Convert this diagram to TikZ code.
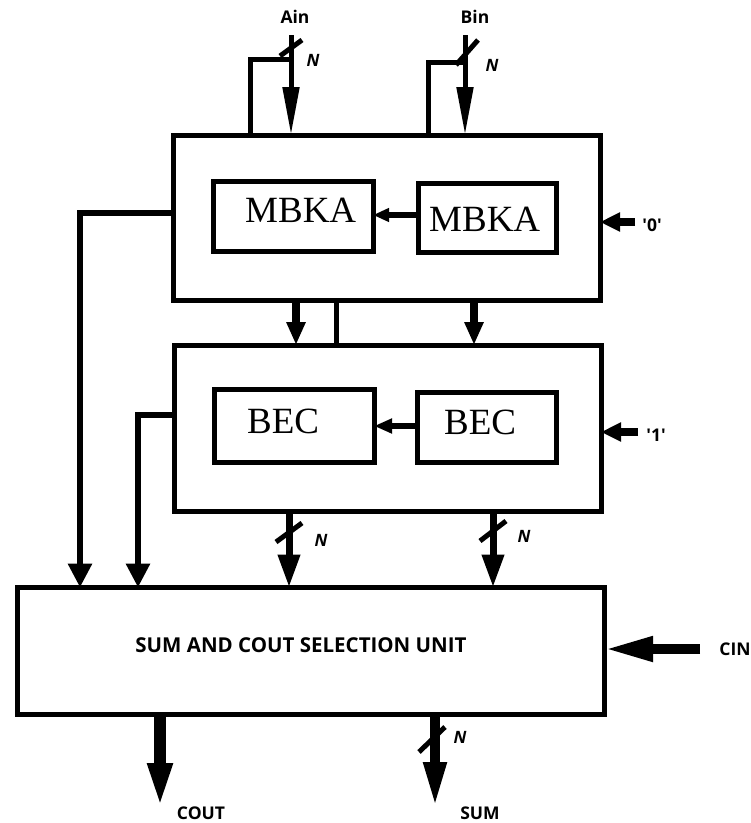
\documentclass[tikz,border=0pt]{standalone}
\usepackage{fontspec}
\setmainfont{Liberation Serif}
\newfontfamily\labfont{Open Sans}
\usetikzlibrary{arrows.meta}
\begin{document}
\begin{tikzpicture}[x=1pt,y=-1pt,
  box/.style={draw, line width=5pt, inner sep=0pt, outer sep=0pt},
  serif/.style={inner sep=0pt, anchor=base west, font=\fontsize{37}{40}\selectfont},
  lbl/.style={inner sep=0pt, font=\labfont\bfseries\fontsize{17.5}{19}\selectfont},
  nlbl/.style={inner sep=0pt, font=\labfont\bfseries\itshape\fontsize{17}{19}\selectfont},
  sig/.style={line width=5pt},
  wire/.style={line width=6pt},
]
\useasboundingbox (0,0) rectangle (751,823);

% boxes
\node[box, minimum width=427pt, minimum height=165pt] (top) at (386.5,217.5) {};
\node[box, minimum width=160pt, minimum height=70pt] (mbkaL) at (293,216) {};
\node[box, minimum width=138pt, minimum height=69pt] (mbkaR) at (487,217.5) {};
\node[box, minimum width=427pt, minimum height=166pt] (mid) at (387.5,428) {};
\node[box, minimum width=160pt, minimum height=73pt] (becL) at (294,425.5) {};
\node[box, minimum width=139pt, minimum height=70pt] (becR) at (486.5,427) {};
\node[box, minimum width=587pt, minimum height=127pt] (sel) at (310.5,651) {};

% box texts
\node[serif] (tMbkaL) at (245,222) {MBKA};
\node[serif] (tMbkaR) at (429,231) {MBKA};
\node[serif] (tBecL) at (247,433) {BEC};
\node[serif] (tBecR) at (444,434) {BEC};
\node[inner sep=0pt, font=\labfont\bfseries\fontsize{20.5}{22}\selectfont] (tSel) at (301,645) {SUM AND COUT SELECTION UNIT};

% inputs Ain / Bin
\node[lbl] (lAin) at (295,17) {Ain};
\node[lbl] (lBin) at (475,17) {Bin};
\coordinate (ainS) at (291,35);
\coordinate (ainJ) at (291,59);
\coordinate (ainB) at (250,59);
\draw[sig, -{Triangle[length=48pt,width=16pt]}] (ainS) -- (ainS |- top.north);
\draw[sig] (ainJ) -- (ainB) -- (ainB |- top.north);
\coordinate (ainK1) at (280,56);
\coordinate (ainK2) at (302,40);
\draw[sig] (ainK1) -- (ainK2);
\node[nlbl] (nAin) at (313,60) {N};

\coordinate (binS) at (465,35);
\coordinate (binJ) at (465,62);
\coordinate (binB) at (428,62);
\draw[sig, -{Triangle[length=48pt,width=16pt]}] (binS) -- (binS |- top.north);
\draw[sig] (binJ) -- (binB) -- (binB |- top.north);
\coordinate (binK1) at (456,65);
\coordinate (binK2) at (478,40);
\draw[sig] (binK1) -- (binK2);
\node[nlbl] (nBin) at (492,65) {N};

% '0' and '1'
\coordinate (zIn) at (635,222);
\draw[line width=8pt, -{Triangle[length=20pt,width=18pt]}] (zIn) -- (zIn -| top.east);
\node[lbl] (lZero) at (652,225) {'0'};
\coordinate (oIn) at (638,432);
\draw[line width=8pt, -{Triangle[length=20pt,width=18pt]}] (oIn) -- (oIn -| mid.east);
\node[lbl] (lOne) at (656,435) {'1'};

% inner arrows
\coordinate (mbkaY) at (0,215);
\draw[line width=6pt, -{Triangle[length=16pt,width=13pt]}] (mbkaR.west |- mbkaY) -- (mbkaL.east |- mbkaY);
\coordinate (becY) at (0,426);
\draw[line width=6pt, -{Triangle[length=18pt,width=14pt]}] (becR.west |- becY) -- (becL.east |- becY);

% top -> mid
\coordinate (xa) at (296,0);
\coordinate (xb) at (474,0);
\coordinate (xc) at (336,0);
\draw[line width=8pt, -{Triangle[length=23pt,width=18pt]}] (top.south -| xa) -- (mid.north -| xa);
\draw[line width=8pt, -{Triangle[length=23pt,width=18pt]}] (top.south -| xb) -- (mid.north -| xb);
\draw[sig] (top.south -| xc) -- (mid.north -| xc);

% left feeds
\coordinate (fl1) at (80,213);
\draw[wire, -{Triangle[length=24pt,width=23pt]}] (top.west |- fl1) -- (fl1) -- (fl1 |- sel.north);
\coordinate (fl2) at (138,415);
\draw[wire, -{Triangle[length=24pt,width=23pt]}] (mid.west |- fl2) -- (fl2) -- (fl2 |- sel.north);

% mid -> sel
\coordinate (xd) at (289,0);
\coordinate (xe) at (493,0);
\draw[line width=7pt, -{Triangle[length=33pt,width=21pt]}] (mid.south -| xd) -- (sel.north -| xd);
\draw[line width=7pt, -{Triangle[length=33pt,width=21pt]}] (mid.south -| xe) -- (sel.north -| xe);
\coordinate (dk1) at (276,542);
\coordinate (dk2) at (302,523);
\draw[sig] (dk1) -- (dk2);
\coordinate (ek1) at (480,541);
\coordinate (ek2) at (506,521);
\draw[sig] (ek1) -- (ek2);
\node[nlbl] (nD) at (321,540) {N};
\node[nlbl] (nE) at (524,536) {N};

% CIN
\coordinate (cinS) at (700,649);
\draw[line width=10pt, -{Triangle[length=49pt,width=23pt]}] (cinS) -- (cinS -| sel.east);
\node[lbl] (lCin) at (735,649) {CIN};

% outputs
\coordinate (coutE) at (160,810);
\draw[line width=12pt, -{Triangle[length=47pt,width=22pt]}] (sel.south -| coutE) -- (coutE);
\node[lbl] (lCout) at (201,813) {COUT};
\coordinate (sumE) at (435,808);
\draw[line width=10pt, -{Triangle[length=46pt,width=21pt]}] (sel.south -| sumE) -- (sumE);
\coordinate (sk1) at (419,752);
\coordinate (sk2) at (445,727);
\draw[sig] (sk1) -- (sk2);
\node[nlbl] (nSum) at (460,737) {N};
\node[lbl] (lSum) at (480,813) {SUM};
\end{tikzpicture}
\end{document}
